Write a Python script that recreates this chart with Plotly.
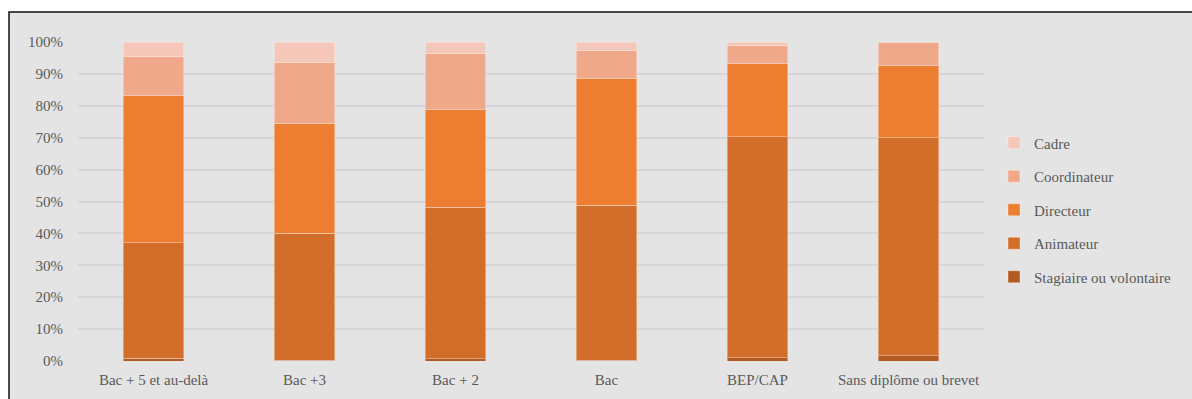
import plotly.graph_objects as go

categories = ["Bac + 5 et au-delà", "Bac +3", "Bac + 2", "Bac", "BEP/CAP", "Sans diplôme ou brevet"]
stagiaire = [0.8, 0.3, 0.7, 0.3, 1.0, 1.6]
animateur = [36.3, 39.7, 47.5, 48.5, 69.3, 68.4]
directeur = [46.1, 34.3, 30.5, 39.9, 22.9, 22.6]
coordinateur = [12.2, 19.4, 17.8, 8.5, 5.6, 7.4]
cadre = [4.6, 6.3, 3.5, 2.8, 1.2, 0.0]

series = [
    ("Stagiaire ou volontaire", stagiaire, "#B35A22"),
    ("Animateur", animateur, "#D26E2A"),
    ("Directeur", directeur, "#ED7D31"),
    ("Coordinateur", coordinateur, "#F0A88A"),
    ("Cadre", cadre, "#F4C7B8"),
]

fig = go.Figure()
n = len(series)
for i, (name, vals, col) in enumerate(series):
    fig.add_trace(go.Bar(
        x=categories, y=[v / 100 for v in vals], name=name,
        legendgroup=name, legendrank=n - i,
        marker=dict(color=col, line=dict(color="rgba(255,255,255,0.35)", width=1)),
        width=0.4,
    ))

W, H = 1192, 399
l, r, t, b = 78, 208, 42, 38
pw, ph = W - l - r, H - t - b

def px_x(x):
    return (x - l) / pw

def px_y(y):
    return (H - b - y) / ph

fnt = dict(family="Liberation Serif, Times New Roman, serif", size=15, color="#595959")

fig.update_layout(
    width=W, height=H,
    margin=dict(l=l, r=r, t=t, b=b, autoexpand=False),
    barmode="stack",
    paper_bgcolor="white",
    plot_bgcolor="rgba(0,0,0,0)",
    font=fnt,
    showlegend=True,
    legend=dict(
        x=px_x(994), y=px_y(210), xanchor="left", yanchor="middle",
        traceorder="grouped", tracegroupgap=11, font=fnt,
        bgcolor="rgba(0,0,0,0)", itemwidth=30,
    ),
    xaxis=dict(showgrid=False, ticks="", tickfont=fnt, showline=False, zeroline=False,
               ticklabelstandoff=8),
    yaxis=dict(range=[0, 1], dtick=0.1, tickformat=".0%", tickfont=fnt,
               showgrid=True, gridcolor="#D6D6D6", gridwidth=1.5,
               zeroline=False, showline=False, ticks="", ticklabelstandoff=14),
    shapes=[dict(
        type="rect", xref="paper", yref="paper",
        x0=px_x(9), x1=px_x(1210), y0=px_y(420), y1=px_y(12),
        line=dict(color="#111111", width=1.5), fillcolor="#E4E4E4", layer="below",
    )],
)

fig.write_html("out.html")
